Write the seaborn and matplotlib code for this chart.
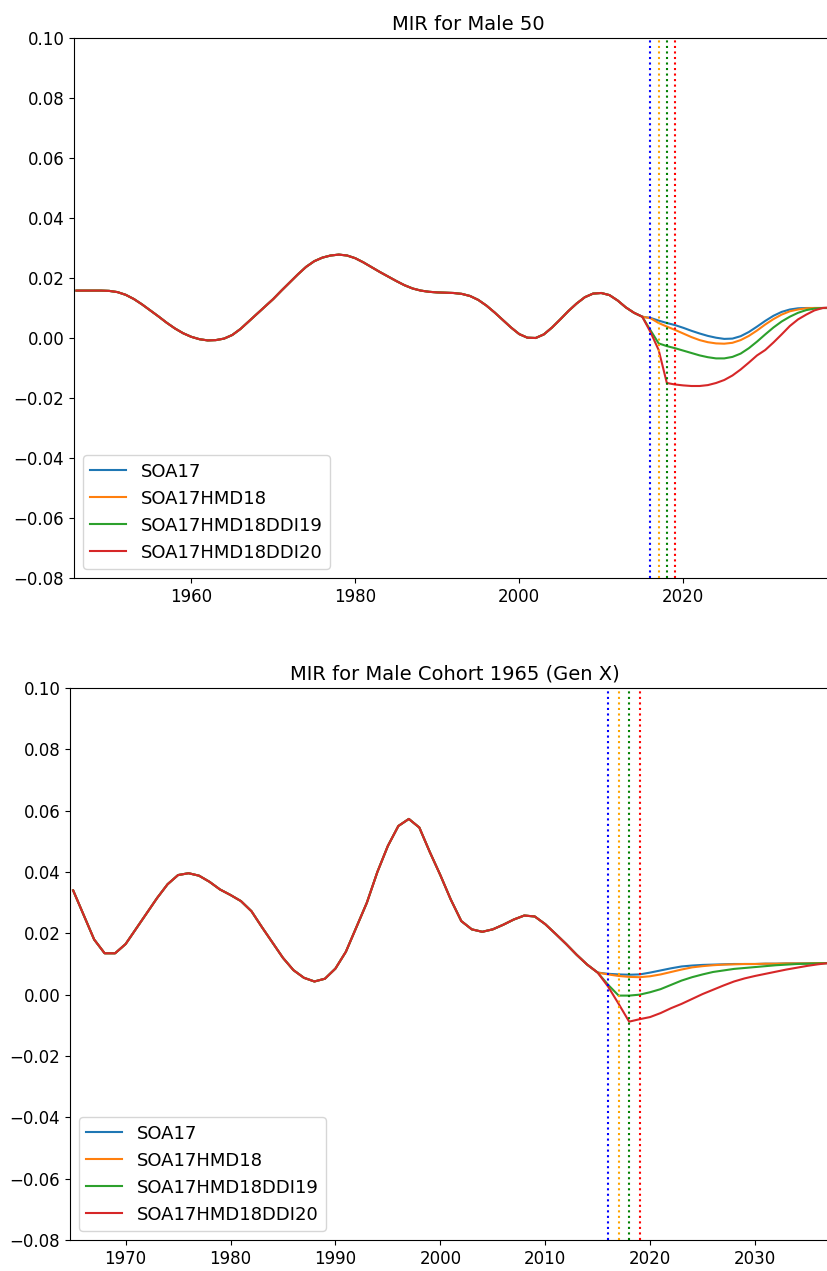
import numpy as np
import pandas as pd
import matplotlib
matplotlib.use("Agg")
import matplotlib.pyplot as plt
import seaborn as sns

# ---------------- data ----------------
series_names = ["SOA17", "SOA17HMD18", "SOA17HMD18DDI19", "SOA17HMD18DDI20"]
line_colors = ["#1f77b4", "#ff7f0e", "#2ca02c", "#d62728"]
vline_years = [2016, 2017, 2018, 2019]
vline_colors = ["blue", "orange", "green", "red"]

# Top panel: MIR for Male 50 (calendar years)
top_hist_years = list(range(1946, 2016))
top_common = [
    0.0158, 0.0158, 0.0158, 0.0158, 0.0157, 0.0153, 0.0144, 0.0130, 0.0112, 0.0092,   # 1946-1955
    0.0072, 0.0051, 0.0032, 0.0016, 0.0004, -0.0004, -0.0008, -0.0007, -0.0002, 0.0010,  # 1956-1965
    0.0030, 0.0055, 0.0080, 0.0105, 0.0130, 0.0158, 0.0185, 0.0212, 0.0237, 0.0256,   # 1966-1975
    0.0268, 0.0275, 0.0278, 0.0275, 0.0266, 0.0252, 0.0236, 0.0220, 0.0205, 0.0190,   # 1976-1985
    0.0176, 0.0165, 0.0158, 0.0154, 0.0152, 0.0151, 0.0150, 0.0147, 0.0140, 0.0127,   # 1986-1995
    0.0108, 0.0085, 0.0060, 0.0035, 0.0013, 0.0001, 0.0000, 0.0012, 0.0035, 0.0062,   # 1996-2005
    0.0090, 0.0115, 0.0136, 0.0148, 0.0150, 0.0143, 0.0125, 0.0102, 0.0084, 0.0071,   # 2006-2015
]
top_proj_years = list(range(2016, 2043))
top_proj_soa17 = [0.0067, 0.0058, 0.0050, 0.0043, 0.0034, 0.0024, 0.0015, 0.0007, 0.0001, -0.0003,
                  -0.0002, 0.0006, 0.0020, 0.0038, 0.0057, 0.0074, 0.0087, 0.0095, 0.0099, 0.0100,
                  0.0100, 0.0100, 0.0100, 0.0100, 0.0100, 0.0100, 0.0100]
top_proj_hmd18 = [0.0066, 0.0050, 0.0038, 0.0027, 0.0015, 0.0003, -0.0007, -0.0014, -0.0018, -0.0019,
                  -0.0016, -0.0007, 0.0007, 0.0025, 0.0045, 0.0063, 0.0078, 0.0089, 0.0095, 0.0099,
                  0.0100, 0.0100, 0.0100, 0.0100, 0.0100, 0.0100, 0.0100]
top_proj_ddi19 = [0.0026, -0.0018, -0.0027, -0.0034, -0.0042, -0.0050, -0.0058, -0.0064, -0.0068, -0.0068,
                  -0.0063, -0.0052, -0.0034, -0.0012, 0.0012, 0.0035, 0.0055, 0.0071, 0.0084, 0.0093,
                  0.0098, 0.0100, 0.0100, 0.0100, 0.0100, 0.0100, 0.0100]
top_proj_ddi20 = [0.0020, -0.0040, -0.0150, -0.0155, -0.0158, -0.0160, -0.0160, -0.0157, -0.0150, -0.0140,
                  -0.0125, -0.0105, -0.0082, -0.0058, -0.0040, -0.0015, 0.0012, 0.0040, 0.0062, 0.0078,
                  0.0092, 0.0100, 0.0102, 0.0102, 0.0101, 0.0100, 0.0100]

# Bottom panel: MIR for Male Cohort 1965 (Gen X)
bot_hist_years = list(range(1965, 2016))
bot_common = [
    0.0340, 0.0260, 0.0180, 0.0135, 0.0135,                                          # 1965-1969
    0.0165, 0.0215, 0.0265, 0.0315, 0.0360, 0.0390, 0.0396, 0.0388, 0.0368, 0.0343,   # 1970-1979
    0.0325, 0.0305, 0.0272, 0.0220, 0.0170, 0.0120, 0.0080, 0.0055, 0.0043, 0.0052,   # 1980-1989
    0.0085, 0.0140, 0.0220, 0.0300, 0.0400, 0.0485, 0.0550, 0.0573, 0.0545, 0.0465,   # 1990-1999
    0.0390, 0.0310, 0.0240, 0.0213, 0.0205, 0.0213, 0.0228, 0.0245, 0.0258, 0.0255,   # 2000-2009
    0.0230, 0.0198, 0.0165, 0.0130, 0.0098, 0.0072,                                  # 2010-2015
]
bot_proj_years = list(range(2016, 2040))
bot_proj_soa17 = [0.0068, 0.0066, 0.0065, 0.0066, 0.0072, 0.0079, 0.0086, 0.0092, 0.0095, 0.0097,
                  0.0098, 0.0099, 0.0100, 0.0100, 0.0100, 0.0101, 0.0101, 0.0102, 0.0102, 0.0102,
                  0.0103, 0.0103, 0.0103, 0.0103]
bot_proj_hmd18 = [0.0066, 0.0061, 0.0058, 0.0057, 0.0060, 0.0066, 0.0074, 0.0082, 0.0089, 0.0093,
                  0.0096, 0.0098, 0.0099, 0.0100, 0.0100, 0.0101, 0.0101, 0.0102, 0.0102, 0.0102,
                  0.0103, 0.0103, 0.0103, 0.0103]
bot_proj_ddi19 = [0.0032, -0.0003, -0.0003, 0.0000, 0.0008, 0.0018, 0.0032, 0.0046, 0.0057, 0.0066,
                  0.0074, 0.0079, 0.0084, 0.0087, 0.0090, 0.0093, 0.0096, 0.0098, 0.0100, 0.0101,
                  0.0102, 0.0103, 0.0103, 0.0103]
bot_proj_ddi20 = [0.0026, -0.0030, -0.0088, -0.0080, -0.0073, -0.0060, -0.0044, -0.0030, -0.0014, 0.0002,
                  0.0016, 0.0030, 0.0043, 0.0053, 0.0061, 0.0068, 0.0075, 0.0082, 0.0088, 0.0094,
                  0.0099, 0.0103, 0.0103, 0.0103]


def build_frame(hist_years, common, proj_years, projs):
    rows = []
    for name, proj in zip(series_names, projs):
        for y, v in zip(hist_years + proj_years, common + proj):
            rows.append({"year": y, "mir": v, "series": name})
    return pd.DataFrame(rows)


top_df = build_frame(top_hist_years, top_common, top_proj_years,
                     [top_proj_soa17, top_proj_hmd18, top_proj_ddi19, top_proj_ddi20])
bot_df = build_frame(bot_hist_years, bot_common, bot_proj_years,
                     [bot_proj_soa17, bot_proj_hmd18, bot_proj_ddi19, bot_proj_ddi20])

# ---------------- plot ----------------
plt.rcParams["font.family"] = ["DejaVu Sans"]
plt.rcParams["font.size"] = 12

fig = plt.figure(figsize=(8.28, 12.71), dpi=100)
W, H = 828.0, 1271.0
# the original figure is cropped on the right: axes run past the image edge
ax1 = fig.add_axes([74 / W, 1 - 578 / H, (862 - 74) / W, 540 / H])
ax2 = fig.add_axes([70 / W, 1 - 1240 / H, (840 - 70) / W, 552 / H])

panels = [
    (ax1, top_df, "MIR for Male 50", (1945.7, 2041.8), np.arange(1960, 2021, 20)),
    (ax2, bot_df, "MIR for Male Cohort 1965 (Gen X)", (1964.7, 2038.1), np.arange(1970, 2031, 10)),
]

for ax, df, title, xlim, xticks in panels:
    sns.lineplot(data=df, x="year", y="mir", hue="series", hue_order=series_names,
                 palette=line_colors, linewidth=1.5, errorbar=None, ax=ax)
    for yr, c in zip(vline_years, vline_colors):
        ax.axvline(yr, color=c, linestyle=":", linewidth=1.5)
    ax.set_xlim(*xlim)
    ax.set_ylim(-0.08, 0.10)
    yt = np.arange(-0.08, 0.1001, 0.02)
    ax.set_yticks(yt)
    ax.set_yticklabels([f"{v:.2f}".replace("-", "\u2212") for v in yt])
    ax.set_xticks(xticks)
    ax.set_xlabel("")
    ax.set_ylabel("")
    ax.set_title(title, fontsize=14)
    for s in ax.spines.values():
        s.set_visible(True)
        s.set_color("black")
    sns.move_legend(ax, "lower left", title=None, fontsize=13)

fig.savefig("out.png", dpi=100)
